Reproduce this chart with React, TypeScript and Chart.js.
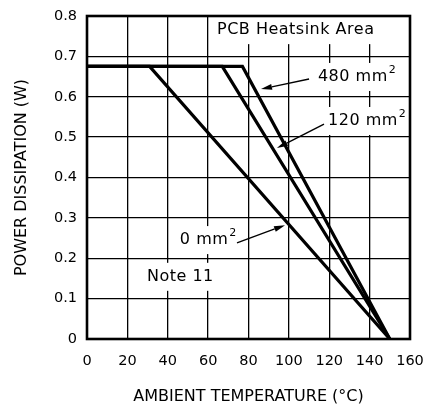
import React, { useEffect, useRef } from 'react';
import { Chart, registerables } from 'chart.js';

Chart.register(...registerables);

// ---- data ----
const xTickValues = [0, 20, 40, 60, 80, 100, 120, 140, 160];
const yTickLabels = ['0', '0.1', '0.2', '0.3', '0.4', '0.5', '0.6', '0.7', '0.8'];

const area0 = [
  { x: 0, y: 0.675 },
  { x: 31, y: 0.675 },
  { x: 150, y: 0 },
];
const area120 = [
  { x: 0, y: 0.675 },
  { x: 67, y: 0.675 },
  { x: 150, y: 0 },
];
const area480 = [
  { x: 0, y: 0.675 },
  { x: 77, y: 0.675 },
  { x: 150, y: 0 },
];

const annotations = [
  { text: 'PCB Heatsink Area', sup: '', x: 64.4, y: 0.765 },
  { text: '480 mm', sup: '2', x: 114.4, y: 0.649 },
  { text: '120 mm', sup: '2', x: 119.4, y: 0.54 },
  { text: '0 mm', sup: '2', x: 46, y: 0.245 },
  { text: 'Note 11', sup: '', x: 29.7, y: 0.154 },
];

const arrows = [
  { fx: 110, fy: 0.644, tx: 86.2, ty: 0.619 },
  { fx: 117.4, fy: 0.532, tx: 94.1, ty: 0.473 },
  { fx: 74.3, fy: 0.238, tx: 98.1, ty: 0.282 },
];

const FONT = '"DejaVu Sans", sans-serif';

const decorPlugin = {
  id: 'decor',
  beforeDatasetsDraw(chart: any) {
    const { ctx, scales } = chart;
    const xs = scales.x;
    const ys = scales.y;
    ctx.save();
    ctx.textBaseline = 'middle';
    ctx.textAlign = 'left';
    for (const a of annotations) {
      const px = xs.getPixelForValue(a.x);
      const py = ys.getPixelForValue(a.y);
      ctx.font = `16px ${FONT}`;
      (ctx as any).letterSpacing = '0.5px';
      const w1 = ctx.measureText(a.text).width;
      ctx.font = `11px ${FONT}`;
      const w2 = a.sup ? ctx.measureText(a.sup).width + 1 : 0;
      const w = w1 + w2;
      ctx.fillStyle = '#ffffff';
      ctx.fillRect(px - 5, py - 14, w + 10, 28);
      ctx.fillStyle = '#000000';
      ctx.font = `16px ${FONT}`;
      ctx.fillText(a.text, px, py);
      if (a.sup) {
        ctx.font = `11px ${FONT}`;
        ctx.fillText(a.sup, px + w1 + 1, py - 7);
      }
    }
    ctx.restore();
  },
  afterDatasetsDraw(chart: any) {
    const { ctx, scales, chartArea } = chart;
    const xs = scales.x;
    const ys = scales.y;
    ctx.save();
    ctx.strokeStyle = '#000';
    ctx.fillStyle = '#000';
    for (const ar of arrows) {
      const x1 = xs.getPixelForValue(ar.fx);
      const y1 = ys.getPixelForValue(ar.fy);
      const x2 = xs.getPixelForValue(ar.tx);
      const y2 = ys.getPixelForValue(ar.ty);
      const ang = Math.atan2(y2 - y1, x2 - x1);
      const hl = 11;
      const hw = 3;
      const bx = x2 - hl * Math.cos(ang);
      const by = y2 - hl * Math.sin(ang);
      ctx.lineWidth = 1.4;
      ctx.beginPath();
      ctx.moveTo(x1, y1);
      ctx.lineTo(bx, by);
      ctx.stroke();
      ctx.beginPath();
      ctx.moveTo(x2, y2);
      ctx.lineTo(bx + hw * Math.sin(ang), by - hw * Math.cos(ang));
      ctx.lineTo(bx - hw * Math.sin(ang), by + hw * Math.cos(ang));
      ctx.closePath();
      ctx.fill();
    }
    ctx.lineWidth = 2.6;
    ctx.strokeRect(
      chartArea.left,
      chartArea.top,
      chartArea.right - chartArea.left,
      chartArea.bottom - chartArea.top
    );
    ctx.restore();
  },
};

export default function App() {
  const canvasRef = useRef<HTMLCanvasElement | null>(null);

  useEffect(() => {
    if (!canvasRef.current) return;
    const lineStyle = {
      showLine: true,
      borderColor: '#000',
      backgroundColor: '#000',
      borderWidth: 3.2,
      pointRadius: 0,
      fill: false,
      tension: 0,
    };
    const chart = new Chart(canvasRef.current, {
      type: 'scatter',
      data: {
        datasets: [
          { label: '0 mm2', data: area0, ...lineStyle },
          { label: '120 mm2', data: area120, ...lineStyle },
          { label: '480 mm2', data: area480, ...lineStyle },
        ],
      },
      options: {
        animation: false,
        responsive: false,
        devicePixelRatio: 1,
        layout: { padding: { top: 16, right: 19, left: 0, bottom: 0 } },
        plugins: {
          legend: { display: false },
          tooltip: { enabled: false },
        },
        scales: {
          x: {
            type: 'linear',
            min: 0,
            max: 160,
            afterBuildTicks: (scale: any) => {
              scale.ticks = xTickValues.map((v) => ({ value: v }));
            },
            afterFit: (scale: any) => {
              scale.height = 70;
              scale.paddingLeft = 0;
              scale.paddingRight = 0;
            },
            grid: { color: '#000', lineWidth: 1.3, drawTicks: false },
            border: { display: false },
            ticks: {
              color: '#000',
              padding: 14,
              maxRotation: 0,
              font: { family: FONT, size: 14.5 },
              callback: (v: any) => String(v),
            },
            title: {
              display: true,
              text: 'AMBIENT TEMPERATURE (°C)',
              color: '#000',
              font: { family: FONT, size: 16 },
              padding: { top: 0, bottom: 2.4 },
            },
          },
          y: {
            type: 'linear',
            min: 0,
            max: 0.8,
            afterBuildTicks: (scale: any) => {
              scale.ticks = yTickLabels.map((_, i) => ({ value: i / 10 }));
            },
            afterFit: (scale: any) => {
              scale.width = 87;
              scale.paddingTop = 0;
              scale.paddingBottom = 0;
            },
            grid: { color: '#000', lineWidth: 1.3, drawTicks: false },
            border: { display: false },
            ticks: {
              color: '#000',
              padding: 10,
              font: { family: FONT, size: 14.5 },
              callback: (_v: any, i: number) => yTickLabels[i],
            },
            title: {
              display: true,
              text: 'POWER DISSIPATION (W)',
              color: '#000',
              font: { family: FONT, size: 16 },
              padding: { top: 12.4, bottom: 0 },
            },
          },
        },
      },
      plugins: [decorPlugin],
    } as any);
    return () => chart.destroy();
  }, []);

  return (
    <div style={{ position: 'absolute', left: 0, top: 0, width: 429, height: 409, background: '#fff' }}>
      <canvas ref={canvasRef} width={429} height={409} style={{ width: 429, height: 409, display: 'block' }} />
    </div>
  );
}
